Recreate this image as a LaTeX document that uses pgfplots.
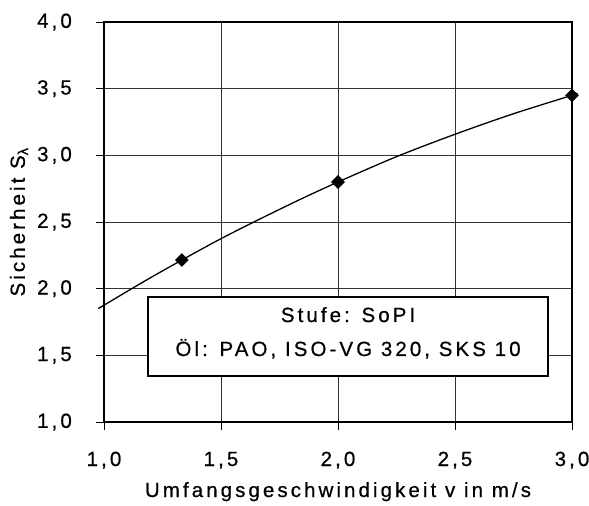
\documentclass[border=0pt]{standalone}
\usepackage{pgfplots}
\pgfplotsset{compat=1.18}
\usepackage{fontspec}
\setmainfont{Liberation Sans}[LetterSpace=15, FakeBold=0.6]
\begin{document}
\begin{tikzpicture}[font=\fontsize{20.5}{24}\selectfont]
\begin{axis}[
  name=ax,
  scale only axis,
  width=468pt, height=400pt,
  xmin=1, xmax=3, ymin=1, ymax=4,
  xtick={1,1.5,2,2.5,3},
  ytick={1,1.5,2,2.5,3,3.5,4},
  /pgf/number format/assume math mode=true,
  /pgf/number format/.cd, use comma, fixed, fixed zerofill, precision=1,
  /pgfplots/.cd,
  tick label style={font=\fontsize{20.5}{24}\selectfont},
  label style={font=\fontsize{20.5}{24}\selectfont},
  tick align=outside,
  major tick length=8pt,
  tick style={black, line width=0.8pt},
  xtick pos=bottom, ytick pos=left,
  grid=major,
  grid style={black!80, line width=0.8pt},
  axis line style={line width=1.5pt},
  xlabel={Umfangsgeschwindigkeit v in m/s},
  ylabel={Sicherheit S\textsubscript{λ}},
  xticklabel style={anchor=base, yshift=-36pt},
  yticklabel style={anchor=east, inner sep=0pt, xshift=-24pt},
  xlabel style={at={(axis description cs:0.5,-0.1875)}, anchor=base},
  ylabel style={at={(axis description cs:-0.1816,0.5)}, anchor=center},
  clip=false,
]
\addplot[black, line width=1.3pt, smooth, no marks] coordinates {
  (0.975,1.851) (1.0,1.876) (1.167,2.050) (1.333,2.215) (1.5,2.375)
  (1.667,2.523) (1.833,2.665) (2.0,2.800) (2.25,2.990) (2.5,3.158)
  (2.75,3.312) (3.0,3.450) (3.02,3.462)
};
\addplot[black, only marks, mark=square*, mark size=4.6pt, mark options={rotate=45}] coordinates {
  (1.333,2.215) (2.0,2.800) (3.0,3.450)
};
\draw[black, fill=white, line width=1.3pt] (axis cs:1.188,1.9375) rectangle (axis cs:2.897,1.345);
\node[anchor=base, inner sep=0pt] at (axis cs:2.043,1.75) {Stufe: SoPI};
\node[anchor=base, inner sep=0pt] at (axis cs:2.043,1.495) {Öl: PAO, ISO-VG 320, SKS 10};
\end{axis}
\path (ax.south west) ++(-104pt,-84pt) coordinate (bbA) ++(589pt,506pt) coordinate (bbB);
\pgfresetboundingbox
\useasboundingbox (bbA) rectangle (bbB);
\end{tikzpicture}
\end{document}
